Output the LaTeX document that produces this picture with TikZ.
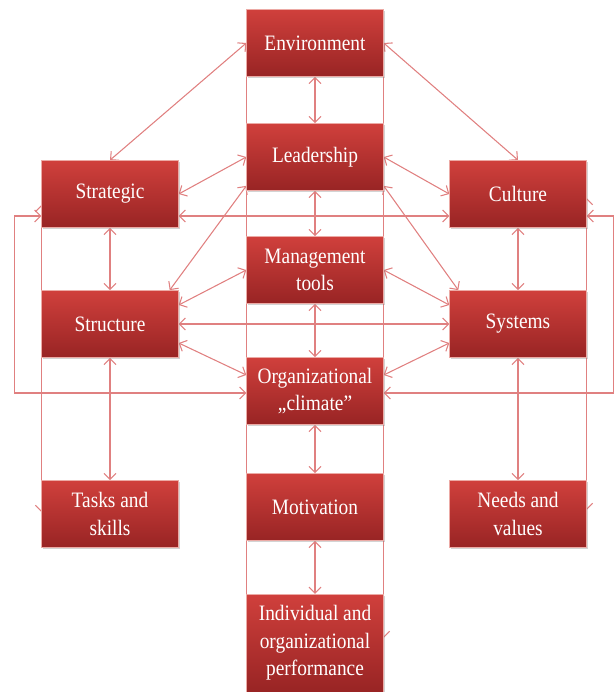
\documentclass[tikz,border=0pt]{standalone}
\usepackage{fontspec}
\setmainfont{Liberation Serif}
\newfontfamily\boxfont[FakeStretch=0.88]{Liberation Serif}
\usetikzlibrary{arrows.meta,backgrounds,calc,shadows}
\definecolor{boxtop}{RGB}{208,64,60}
\definecolor{boxbot}{RGB}{152,36,36}
\definecolor{boxedge}{RGB}{236,170,165}
\definecolor{linkred}{RGB}{224,128,128}
\tikzset{
	box/.style={rectangle, minimum width=102.75pt, minimum height=50.5pt, inner sep=2pt,
		top color=boxtop, bottom color=boxbot, draw=boxedge, line width=0.3pt,
		text=white, align=center, font=\boxfont\fontsize{16.5}{20.5}\selectfont,
		drop shadow={opacity=0.35, shadow xshift=0.8pt, shadow yshift=-1.2pt}},
	link/.style={draw=linkred, line width=0.8pt, >={Straight Barb[length=4.5pt,width=9pt]}, <->},
}

\begin{document}
\begin{tikzpicture}[x=0.75pt, y=-0.75pt]
		%%%%% START %%%%%
		\useasboundingbox (0,0) rectangle (615,692);
		
		% centre column
		\node[box] (env) at (315,43) {Environment};
		\node[box] (lead) at (315,157) {Leadership};
		\node[box] (mgmt) at (315,270) {Management\\tools};
		\node[box] (clim) at (315,391) {Organizational\\„climate”};
		\node[box] (motiv) at (315,507) {Motivation};
		\node[box, minimum height=73.5pt] (perf) at (315,643) {Individual and\\organizational\\performance};
		
		% side columns
		\node[box] (strat) at (110,194) {Strategic};
		\node[box] (cult) at (518,194) {Culture};
		\node[box] (struc) at (110,324) {Structure};
		\node[box] (syst) at (518,324) {Systems};
		\node[box] (tasks) at (110,514) {Tasks and\\skills};
		\node[box] (needs) at (518,514) {Needs and\\values};
		
		\begin{scope}[on background layer]
			\draw[link] (env) -- (lead);
			\draw[link] (lead) -- (mgmt);
			\draw[link] (mgmt) -- (clim);
			\draw[link] (clim) -- (motiv);
			\draw[link] (motiv) -- (perf);
			\draw[link, -] (env.west) -- (perf.west);
			\draw[link, ->] (env.east) -- ($(perf.east)+(0,-5)$);
			
			\draw[link] (env.west) -- (strat.north);
			\draw[link] (env.east) -- (cult.north);
			\draw[link] (lead.west) -- (strat.east);
			\draw[link] (lead.east) -- (cult.west);
			\draw[link] ($(lead.south west)+(0,-5)$) -- ($(struc.north east)+(-9,0)$);
			\draw[link] ($(lead.south east)+(0,-5)$) -- ($(syst.north west)+(9,0)$);
			\draw[link] ($(strat.east)+(0,22)$) -- ($(cult.west)+(0,22)$);
			
			\draw[link] (strat) -- (struc);
			\draw[link] (cult) -- (syst);
			\draw[link] ($(struc.east)+(0,-19)$) -- (mgmt.west);
			\draw[link] ($(syst.west)+(0,-19)$) -- (mgmt.east);
			\draw[link] (struc) -- (syst);
			\draw[link] ($(struc.east)+(0,19)$) -- ($(clim.west)+(0,-16)$);
			\draw[link] ($(syst.west)+(0,19)$) -- ($(clim.east)+(0,-16)$);
			
			\draw[link] ($(strat.west)+(0,22)$) -- ++(-27,0) |- ($(clim.west)+(0,2)$);
			\draw[link] ($(cult.east)+(0,22)$) -- ++(27,0) |- ($(clim.east)+(0,2)$);
			\draw[link] ($(strat.west)+(0,11)$) -- ($(tasks.west)+(0,-2)$);
			\draw[link] ($(cult.east)+(0,4)$) -- ($(needs.east)+(0,-4)$);
			
			\draw[link] (struc) -- (tasks);
			\draw[link] (syst) -- (needs);
		\end{scope}
		
		%%%%% END %%%%%
\end{tikzpicture}
\end{document}
